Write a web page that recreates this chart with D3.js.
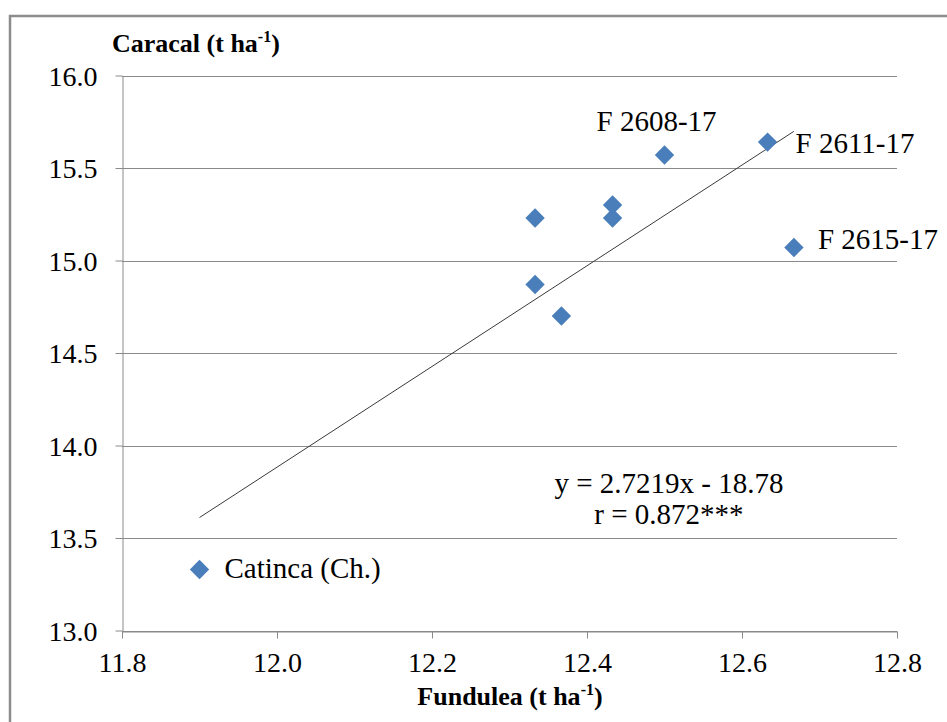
<!DOCTYPE html>
<html>
<head>
<meta charset="utf-8">
<script src="https://cdn.jsdelivr.net/npm/d3@7"></script>
<style>
    body { margin: 0; background: #fff; }
    svg { display: block; }
    .tick-label { font-family: "Liberation Serif", "Times New Roman", serif; font-size: 28px; fill: #000; }
    .point-label { font-family: "Liberation Serif", "Times New Roman", serif; font-size: 29px; fill: #000; }
    .axis-title { font-family: "Liberation Serif", "Times New Roman", serif; font-size: 26px; font-weight: bold; fill: #000; }
</style>
</head>
<body>
<svg id="chart" width="947" height="722"></svg>
<script>
// values
var genotypes = ["", "", "", "F 2608-17", "F 2611-17", "F 2615-17", "", "", "Catinca (Ch.)"];
var fundulea = [12.333, 12.433, 12.433, 12.5, 12.633, 12.667, 12.333, 12.367, 11.9];
var caracal = [15.23, 15.30, 15.23, 15.57, 15.64, 15.07, 14.87, 14.70, 13.33];
var xTicks = [11.8, 12.0, 12.2, 12.4, 12.6, 12.8];
var yTicks = [13.0, 13.5, 14.0, 14.5, 15.0, 15.5, 16.0];
var slope = 2.7219;
var intercept = -18.78;
var equationLines = ["y = 2.7219x - 18.78", "r = 0.872***"];

(function() {
    var svg = d3.select("#chart");
    var left = 122, right = 897, top = 75.5, bottom = 630.5;
    var gridColor = "#8a8a8a";
    var pointColor = "#4a7ebb";

    var x = d3.scaleLinear().domain([11.8, 12.8]).range([left, right]);
    var y = d3.scaleLinear().domain([13, 16]).range([bottom, top]);

    // outer chart border (top + left only are visible)
    svg.append("path")
        .attr("d", "M10,722V16H947")
        .attr("fill", "none")
        .attr("stroke", "#8c8c8c")
        .attr("stroke-width", 2.5);

    // horizontal gridlines
    svg.append("g")
        .selectAll("line")
        .data(yTicks)
        .join("line")
        .attr("x1", left).attr("x2", right)
        .attr("y1", function(d) { return Math.round(y(d)) + 0.5; })
        .attr("y2", function(d) { return Math.round(y(d)) + 0.5; })
        .attr("stroke", gridColor)
        .attr("stroke-width", 1);

    var yAxis = svg.append("g")
        .attr("transform", "translate(" + (left + 0.5) + ",0)")
        .call(d3.axisLeft(y).tickValues(yTicks).tickFormat(d3.format(".1f")).tickSize(7).tickSizeOuter(0).tickPadding(18));

    var xAxis = svg.append("g")
        .attr("transform", "translate(0," + (Math.round(bottom) + 0.5) + ")")
        .call(d3.axisBottom(x).tickValues(xTicks).tickFormat(d3.format(".1f")).tickSize(7).tickSizeOuter(0));

    [yAxis, xAxis].forEach(function(axis) {
        axis.select(".domain").attr("stroke", gridColor);
        axis.selectAll(".tick line").attr("stroke", gridColor);
        axis.selectAll(".tick text")
            .attr("class", "tick-label")
            .attr("font-family", null)
            .attr("font-size", null)
            .attr("fill", null);
    });
    yAxis.selectAll(".tick text").attr("dy", "0.34em");
    xAxis.selectAll(".tick text").attr("y", 40).attr("dy", 0);

    // trendline over the range of the data
    var xMin = d3.min(fundulea), xMax = d3.max(fundulea);
    svg.append("line")
        .attr("x1", x(xMin)).attr("y1", y(slope * xMin + intercept))
        .attr("x2", x(xMax)).attr("y2", y(slope * xMax + intercept))
        .attr("stroke", "#3a3a3a")
        .attr("stroke-width", 1);

    var points = fundulea.map(function(v, i) {
        return { fx: v, cy: caracal[i], label: genotypes[i] };
    });

    var diamond = d3.symbol().type(d3.symbolDiamond2).size(240);
    svg.append("g")
        .selectAll("path")
        .data(points)
        .join("path")
        .attr("d", diamond)
        .attr("transform", function(d) { return "translate(" + x(d.fx) + "," + y(d.cy) + ")"; })
        .attr("fill", pointColor);

    // label offsets from their points
    var labelOffset = {
        "F 2608-17": [-68, -24],
        "F 2611-17": [28, 11],
        "F 2615-17": [24, 1],
        "Catinca (Ch.)": [25, 9]
    };
    svg.append("g")
        .selectAll("text")
        .data(points.filter(function(d) { return d.label; }))
        .join("text")
        .attr("class", "point-label")
        .attr("x", function(d) { return x(d.fx) + labelOffset[d.label][0]; })
        .attr("y", function(d) { return y(d.cy) + labelOffset[d.label][1]; })
        .text(function(d) { return d.label; });

    svg.append("g")
        .selectAll("text")
        .data(equationLines)
        .join("text")
        .attr("class", "point-label")
        .attr("text-anchor", "middle")
        .attr("x", 669)
        .attr("y", function(d, i) { return 493 + i * 31; })
        .text(function(d) { return d; });

    // axis titles with superscript
    function axisTitle(xPos, yPos, anchor, main) {
        var t = svg.append("text")
            .attr("class", "axis-title")
            .attr("x", xPos)
            .attr("y", yPos)
            .attr("text-anchor", anchor);
        t.append("tspan").text(main);
        t.append("tspan").attr("font-size", "16px").attr("dy", -10).text("-1");
        t.append("tspan").attr("dy", 10).text(")");
    }
    axisTitle(112, 52, "start", "Caracal (t ha");
    axisTitle(510, 705, "middle", "Fundulea (t ha");
})();
</script>
</body>
</html>
